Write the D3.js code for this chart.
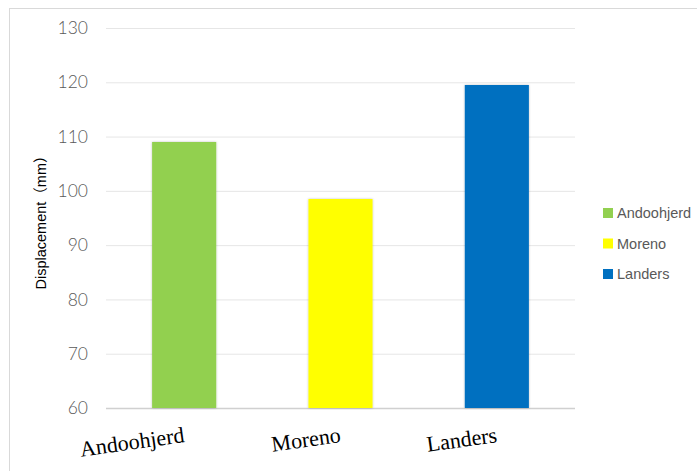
<!DOCTYPE html>
<html><head><meta charset="utf-8">
<script src="https://cdn.jsdelivr.net/npm/d3@7/dist/d3.min.js"></script>
<style>body{margin:0;background:#fff;}svg{display:block;}</style>
</head><body>
<svg id="c" width="697" height="471"></svg>
<script>
const categories = ["Andoohjerd", "Moreno", "Landers"];
const values = [109, 98.5, 119.5];
const colors = ["#92d050", "#ffff00", "#0070c0"];
const yTicks = [60, 70, 80, 90, 100, 110, 120, 130];
const yTitle = "Displacement（mm）";

(function () {
const svg = d3.select("#c");
svg.append("rect").attr("x", 9.5).attr("y", 8.5).attr("width", 700).attr("height", 470)
  .attr("fill", "none").attr("stroke", "#d9d9d9");

const mL = 106, mR = 575, mT = 28, mB = 408;
const x = d3.scaleBand().domain(categories).range([mL, mR]).paddingInner(0.59).paddingOuter(0.295);
const y = d3.scaleLinear().domain([60, 130]).range([mB, mT]);

const defs = svg.append("defs");
const f = defs.append("filter").attr("id", "sh").attr("x", "-20%").attr("y", "-5%").attr("width", "140%").attr("height", "110%");
f.append("feDropShadow").attr("dx", 0).attr("dy", 0).attr("stdDeviation", 1.2).attr("flood-color", "#000").attr("flood-opacity", 0.25);

const yAxis = d3.axisLeft(y).tickValues(yTicks).tickSize(-(mR - mL)).tickPadding(18);
const ga = svg.append("g").attr("transform", `translate(${mL},0)`).call(yAxis);
ga.select(".domain").remove();
ga.selectAll(".tick line").attr("stroke", "#e6e6e6").attr("stroke-width", 1);
ga.selectAll(".tick text").attr("fill", "#595959").attr("font-family", "'Century Gothic', 'URW Gothic', 'Lato', sans-serif")
  .attr("font-size", 17.5).attr("font-weight", 300);
ga.selectAll(".tick").filter(d => d === 60).select("line").attr("stroke", "#d0d0d0").attr("stroke-width", 1.5);

svg.append("g").selectAll("rect").data(categories).join("rect")
  .attr("x", d => x(d)).attr("width", x.bandwidth())
  .attr("y", (d, i) => y(values[i])).attr("height", (d, i) => mB - y(values[i]))
  .attr("fill", (d, i) => colors[i]).attr("filter", "url(#sh)");

svg.append("g").selectAll("text").data(categories).join("text")
  .attr("transform", d => `translate(${x(d) + x.bandwidth() / 2 + 1},${442}) rotate(-8)`)
  .attr("text-anchor", "end")
  .attr("font-family", "'Liberation Serif', 'Times New Roman', serif")
  .attr("font-size", 22).attr("fill", "#000")
  .text(d => d);

svg.append("text").attr("transform", "translate(46,219) rotate(-90)")
  .attr("text-anchor", "middle").attr("font-family", "'Liberation Sans', 'Noto Sans CJK SC', Arial, sans-serif")
  .attr("font-size", 14.5).attr("fill", "#000").text(yTitle);

const lg = svg.append("g").selectAll("g").data(categories).join("g")
  .attr("transform", (d, i) => `translate(603,${208 + i * 30.5})`);
lg.append("rect").attr("width", 10).attr("height", 10).attr("fill", (d, i) => colors[i]);
lg.append("text").attr("x", 14).attr("y", 10).attr("font-family", "'Liberation Sans', Arial, sans-serif")
  .attr("font-size", 14.5).attr("fill", "#595959").text(d => d);
})();
</script>
</body></html>
